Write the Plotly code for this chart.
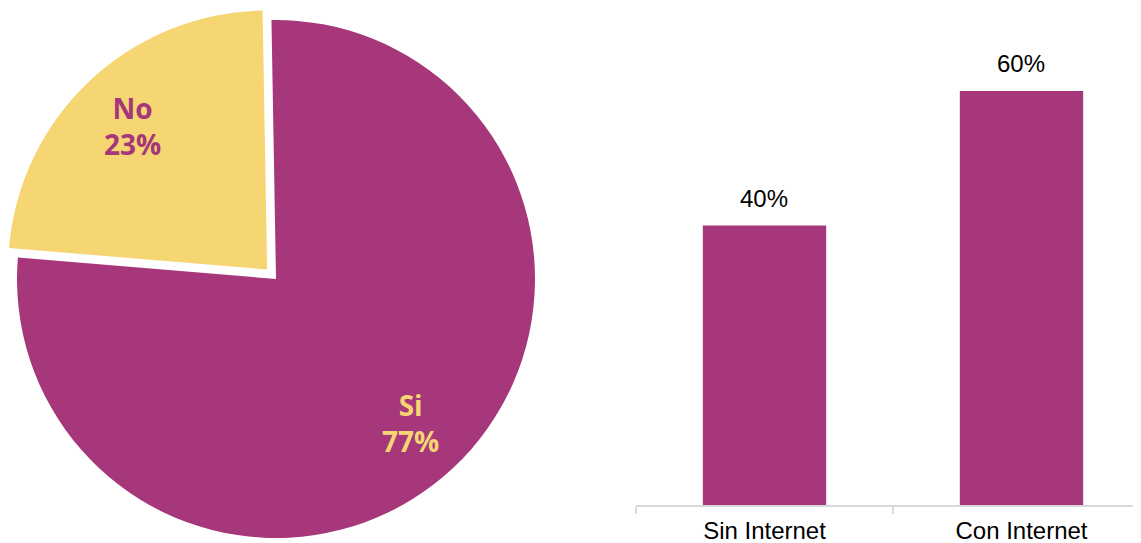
import math
import plotly.graph_objects as go

pie_labels = ["Si", "No"]
pie_values = [76.6, 23.4]
pie_colors = ["#A5377A", "#F6D673"]
pie_text_colors = ["#F6D673", "#A5377A"]
pie_pull_px = [0, 13]

bar_categories = ["Sin Internet", "Con Internet"]
bar_values = [40.3, 59.7]
bar_color = "#A5377A"

W, H = 1141, 543
OFF = 8  # default page body margin
fig = go.Figure()

cx, cy, r = 276 - OFF, 279 - OFF, 259
rotation = -1
total = sum(pie_values)
start = rotation
for i, (lab, val) in enumerate(zip(pie_labels, pie_values)):
    span = val / total * 360
    mid = math.radians(start + span / 2)
    dx, dy = math.sin(mid), -math.cos(mid)
    pcx = cx + pie_pull_px[i] * dx
    pcy = cy + pie_pull_px[i] * dy
    cols = ["rgba(0,0,0,0)"] * len(pie_values)
    cols[i] = pie_colors[i]
    fig.add_trace(go.Pie(
        labels=pie_labels, values=pie_values, sort=False, direction="clockwise",
        rotation=rotation,
        marker=dict(colors=cols, line=dict(width=0)),
        textinfo="none", hoverinfo="label+percent",
        domain=dict(x=[max(0, (pcx - r) / W), min(1, (pcx + r) / W)],
                    y=[max(0, 1 - (pcy + r) / H), min(1, 1 - (pcy - r) / H)]),
        showlegend=False,
    ))
    tx = pcx + 0.76 * r * dx
    ty = pcy + 0.76 * r * dy
    fig.add_annotation(x=tx / W, y=1 - ty / H, xref="paper", yref="paper",
                       text=f"<b>{lab}<br>{val / total:.0%}</b>", showarrow=False,
                       xanchor="center", yanchor="middle",
                       font=dict(family="Open Sans", size=28, color=pie_text_colors[i]))
    start += span

fig.add_trace(go.Bar(
    x=bar_categories, y=bar_values, marker=dict(color=bar_color, line=dict(width=0)),
    width=0.48, showlegend=False, xaxis="x", yaxis="y", hoverinfo="x+y",
))

for c, v in zip(bar_categories, bar_values):
    fig.add_annotation(x=c, y=v, xref="x", yref="y", text=f"{v:.0f}%", showarrow=False,
                       yanchor="bottom", yshift=12,
                       font=dict(family="Liberation Sans, Arial", size=24, color="black"))

x0px = 636 - OFF
unit = 257
axis_y = 505 - OFF
top60 = 91 - OFF
px_per_unit = (axis_y - top60) / max(bar_values)
fig.update_layout(
    width=W, height=H, margin=dict(l=0, r=0, t=0, b=0),
    paper_bgcolor="white", plot_bgcolor="white",
    xaxis=dict(domain=[x0px / W, 1], range=[-0.5, -0.5 + (W - x0px) / unit], type="category",
               showline=True, linecolor="#D9D9D9", linewidth=2,
               ticks="outside", tickson="boundaries", ticklen=7, tickcolor="#D9D9D9", tickwidth=2,
               ticklabelstandoff=3,
               showgrid=False, zeroline=False,
               tickfont=dict(family="Liberation Sans, Arial", size=24, color="black")),
    yaxis=dict(domain=[(H - axis_y) / H, 1], range=[0, axis_y / px_per_unit],
               visible=False, showgrid=False, zeroline=False),
)

fig.write_html("out.html", config={"displayModeBar": False})
